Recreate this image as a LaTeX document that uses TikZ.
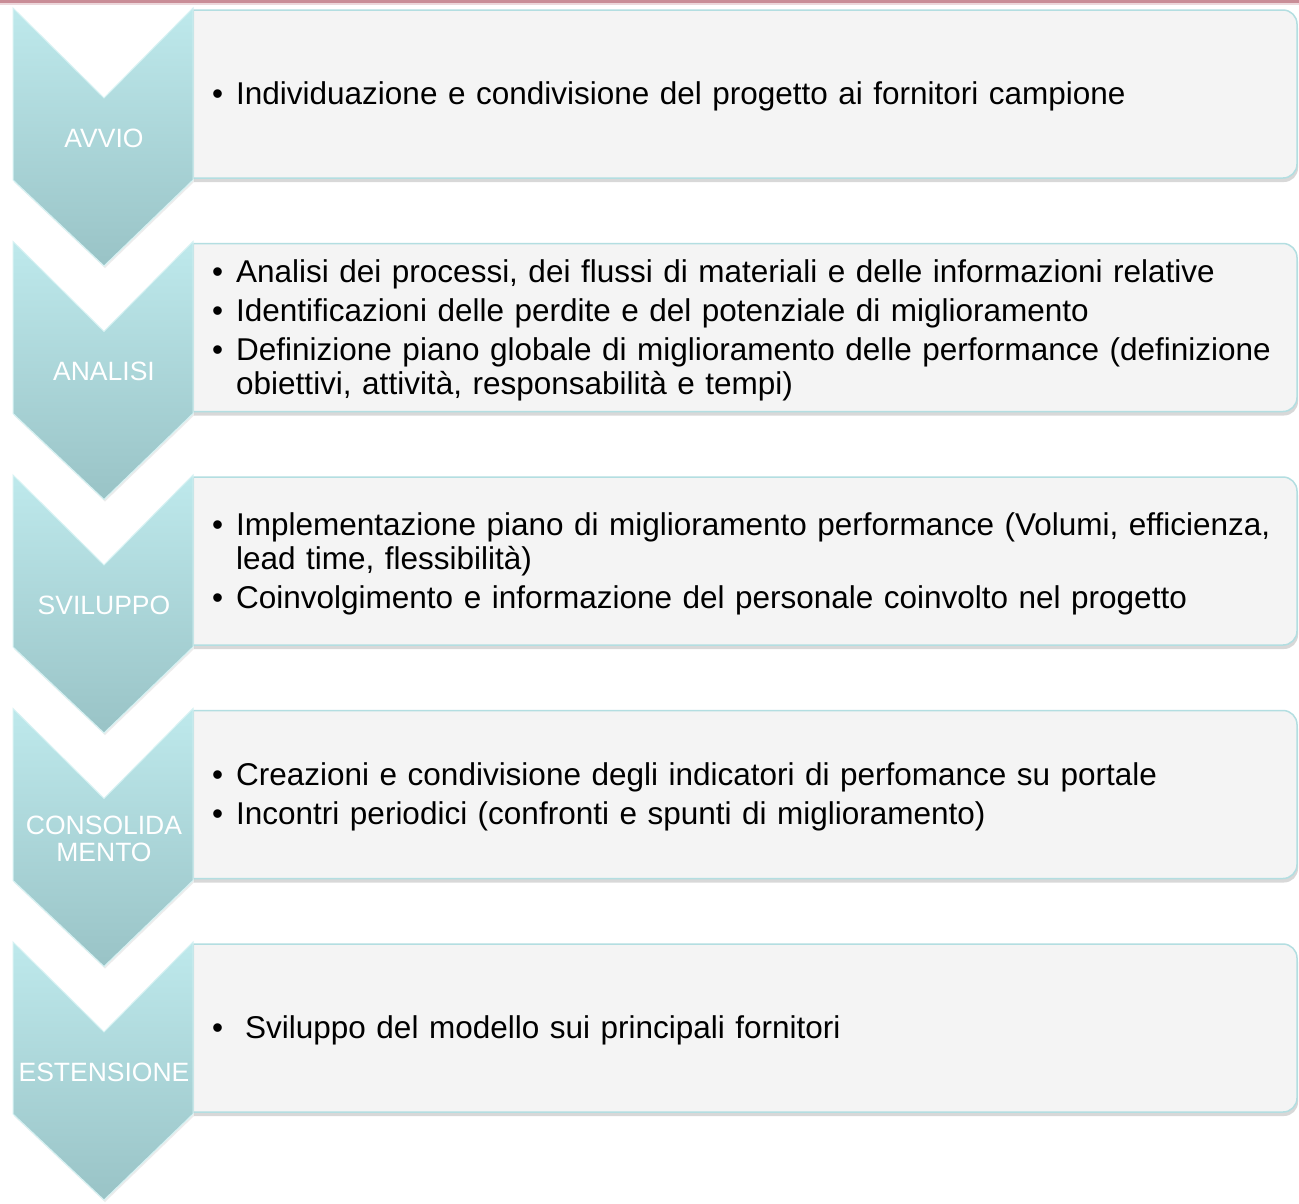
\documentclass[tikz,border=0pt]{standalone}
\usepackage{fontspec}
\setmainfont{Liberation Sans}
\usetikzlibrary{shadows}
\definecolor{chevtop}{HTML}{BEE9EC}
\definecolor{chevbot}{HTML}{99C3C6}
\definecolor{chevedge}{HTML}{D6F2F3}
\definecolor{boxfill}{HTML}{F4F4F4}
\definecolor{boxline}{HTML}{B3DEE1}
\definecolor{topline}{HTML}{C98D97}
\newcommand{\voce}[1]{\noindent\hangindent=24pt\hangafter=1\makebox[24pt][l]{\textbullet}#1\par}
\tikzset{
  fase/.style={top color=chevtop, bottom color=chevbot, draw=chevedge, line width=1pt,
    drop shadow={shadow xshift=1pt, shadow yshift=-2pt, opacity=0.15}},
  riquadro/.style={fill=boxfill, draw=boxline, line width=1.5pt,
    drop shadow={shadow xshift=1pt, shadow yshift=-4pt, opacity=0.3}},
  etichetta/.style={text=white, font=\fontsize{26.5}{27}\selectfont, align=center, inner sep=0pt},
  elenco/.style={anchor=west, inner sep=0pt, text width=1072pt, align=left,
    font=\fontsize{31.5}{34}\selectfont\setlength{\parskip}{5pt}}
}
\begin{document}
\begin{tikzpicture}[x=1pt,y=-1pt]
\useasboundingbox (0,0) rectangle (1299,1203);
\fill[white] (0,0) rectangle (1299,1203);
\fill[topline] (0,0) rectangle (1299,3);
\fill[topline!35] (0,3) rectangle (1299,5);
% riquadri
\path[riquadro] (193,10) [rounded corners=14pt] -- (1297,10) -- (1297,178) [sharp corners] -- (193,178) -- cycle;
\path[riquadro] (193,243.5) [rounded corners=14pt] -- (1297,243.5) -- (1297,411.5) [sharp corners] -- (193,411.5) -- cycle;
\path[riquadro] (193,477) [rounded corners=14pt] -- (1297,477) -- (1297,645) [sharp corners] -- (193,645) -- cycle;
\path[riquadro] (193,710.5) [rounded corners=14pt] -- (1297,710.5) -- (1297,878.5) [sharp corners] -- (193,878.5) -- cycle;
\path[riquadro] (193,944) [rounded corners=14pt] -- (1297,944) -- (1297,1112) [sharp corners] -- (193,1112) -- cycle;
% frecce
\path[fase] (13,8) -- (104,98) -- (193,8) -- (193,180) -- (104,266) -- (13,180) -- cycle;
\path[fase] (13,241.5) -- (104,331.5) -- (193,241.5) -- (193,413.5) -- (104,499.5) -- (13,413.5) -- cycle;
\path[fase] (13,475) -- (104,565) -- (193,475) -- (193,647) -- (104,733) -- (13,647) -- cycle;
\path[fase] (13,708.5) -- (104,798.5) -- (193,708.5) -- (193,880.5) -- (104,966.5) -- (13,880.5) -- cycle;
\path[fase] (13,942) -- (104,1032) -- (193,942) -- (193,1114) -- (104,1200) -- (13,1114) -- cycle;
% etichette
\node[etichetta] (avvio) at (104,138) {AVVIO};
\node[etichetta] (analisi) at (104,371.5) {ANALISI};
\node[etichetta] (sviluppo) at (104,605) {SVILUPPO};
\node[etichetta] (consol) at (104,838.5) {CONSOLIDA\\MENTO};
\node[etichetta] (estens) at (104,1072) {ESTENSIONE};
% testi
\node[elenco] (testoA) at (212,96.5) {\voce{Individuazione e condivisione del progetto ai fornitori campione}};
\node[elenco] (testoB) at (212,330) {\voce{Analisi dei processi, dei flussi di materiali e delle informazioni relative}
  \voce{Identificazioni delle perdite e del potenziale di miglioramento}
  \voce{Definizione piano globale di miglioramento delle performance (definizione obiettivi, attività, responsabilità e tempi)}};
\node[elenco] (testoC) at (212,563.5) {\voce{Implementazione piano di miglioramento performance (Volumi, efficienza, lead time, flessibilità)}
  \voce{Coinvolgimento e informazione del personale coinvolto nel progetto}};
\node[elenco] (testoD) at (212,797) {\voce{Creazioni e condivisione degli indicatori di perfomance su portale}
  \voce{Incontri periodici (confronti e spunti di miglioramento)}};
\node[elenco] (testoE) at (212,1030.5) {\voce{\hspace{9pt}Sviluppo del modello sui principali fornitori}};
\end{tikzpicture}
\end{document}
